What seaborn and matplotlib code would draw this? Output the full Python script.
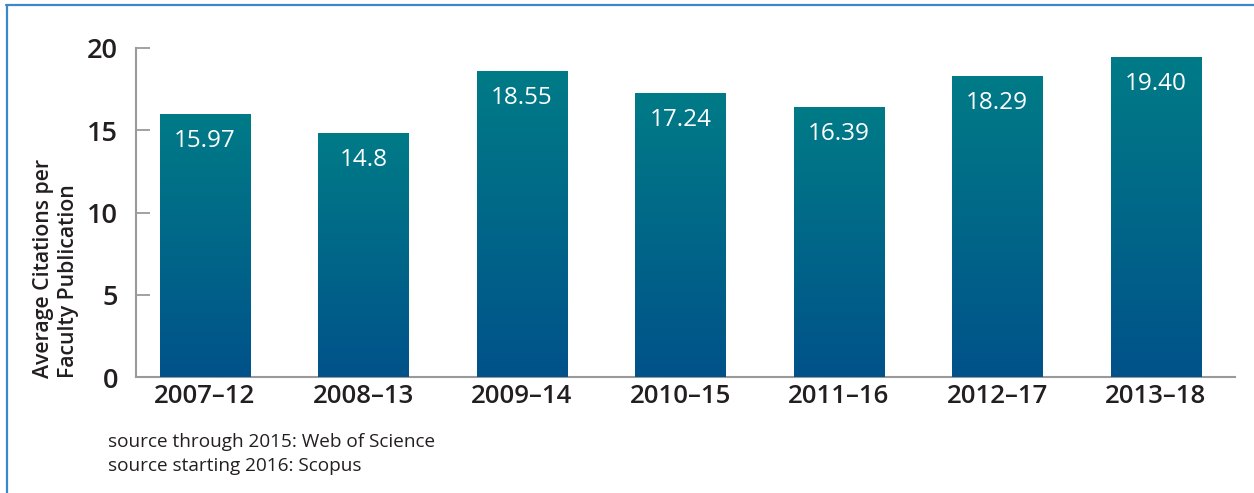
import numpy as np
import pandas as pd
import matplotlib
matplotlib.use("Agg")
import matplotlib.pyplot as plt
from matplotlib.colors import LinearSegmentedColormap
from matplotlib.lines import Line2D
import seaborn as sns

periods = ["2007\u201312", "2008\u201313", "2009\u201314", "2010\u201315", "2011\u201316", "2012\u201317", "2013\u201318"]
values = [15.97, 14.8, 18.55, 17.24, 16.39, 18.29, 19.40]
labels = ["15.97", "14.8", "18.55", "17.24", "16.39", "18.29", "19.40"]
yticks = [0, 5, 10, 15, 20]
ylabel = "Average Citations per\nFaculty Publication"
notes = ["source through 2015: Web of Science", "source starting 2016: Scopus"]

sns.set_style("white")
plt.rcParams["font.family"] = ["Open Sans", "DejaVu Sans"]

W, H = 1254, 493
fig = plt.figure(figsize=(W / 100, H / 100), dpi=100)
ax = fig.add_axes([136 / W, 1 - 377 / H, (1235 - 136) / W, (377 - 48) / H])

df = pd.DataFrame({"period": periods, "value": values})
sns.barplot(data=df, x="period", y="value", ax=ax, color="#006a88", width=0.57,
            saturation=1, edgecolor="none", linewidth=0)

top_c = "#007b87"
bot_c = "#00528a"
cmap = LinearSegmentedColormap.from_list("g", [bot_c, top_c])
grad = np.linspace(0, 1, 256).reshape(-1, 1)
for p in ax.patches:
    x0, y0 = p.get_x(), p.get_y()
    w, h = p.get_width(), p.get_height()
    ax.imshow(grad, extent=[x0, x0 + w, y0, y0 + h], origin="lower", aspect="auto",
              cmap=cmap, zorder=p.get_zorder() + 0.1, interpolation="bilinear")
    p.set_facecolor("none")

for p, lab in zip(ax.patches, labels):
    cx = p.get_x() + p.get_width() / 2
    ax.annotate(lab, (cx, p.get_height()), xytext=(0, -10.5), textcoords="offset points",
                ha="center", va="top", color="white", fontsize=17.5, zorder=5)

ax.set_xlim(-0.435, 6.5)
ax.set_ylim(0, 20)
ax.set_yticks(yticks)
ax.set_xlabel("")
ax.set_ylabel("")
for s in ["top", "right"]:
    ax.spines[s].set_visible(False)
for s in ["left", "bottom"]:
    ax.spines[s].set_color("#9a9a9a")
    ax.spines[s].set_linewidth(1.5)
    ax.spines[s].set_zorder(0.5)
ax.tick_params(axis="y", direction="in", length=10, width=1.3, color="#9a9a9a",
               pad=13, labelsize=19.5, labelcolor="#231f20", left=True)
ax.tick_params(axis="x", length=0, pad=5, labelsize=18.5, labelcolor="#231f20")
for t in ax.get_xticklabels() + ax.get_yticklabels():
    t.set_fontweight("semibold")

fig.text(56 / W, 1 - 378 / H, ylabel, rotation=90, ha="center", va="bottom",
         multialignment="left", fontsize=15.3, fontweight="semibold", color="#231f20",
         linespacing=1.3)

fig.text(108 / W, 1 - 442 / H, notes[0], ha="left", va="center", fontsize=13.7, color="#231f20")
fig.text(108 / W, 1 - 466 / H, notes[1], ha="left", va="center", fontsize=13.7, color="#231f20")

border = "#3d87c9"
fig.add_artist(Line2D([6.5 / W, 6.5 / W], [0, 1 - 5 / H], transform=fig.transFigure,
                      color=border, linewidth=1.6))
fig.add_artist(Line2D([6 / W, 1], [1 - 5 / H, 1 - 5 / H], transform=fig.transFigure,
                      color=border, linewidth=1.6))

fig.savefig("out.png", dpi=100)
